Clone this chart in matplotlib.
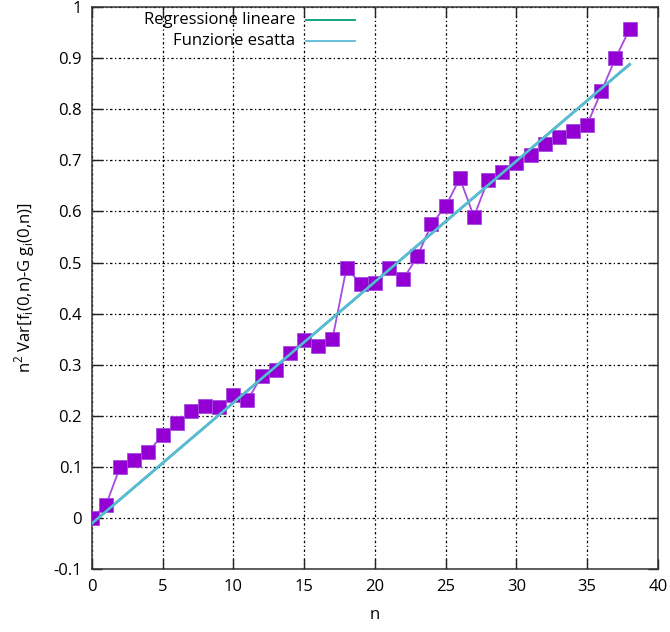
import numpy as np
import matplotlib
matplotlib.use("Agg")
import matplotlib.pyplot as plt

plt.rcParams["font.family"] = ["Open Sans", "DejaVu Sans"]
plt.rcParams["mathtext.fontset"] = "custom"
plt.rcParams["mathtext.rm"] = "Open Sans"

# values
n = list(range(39))
var = [0.0, 0.025, 0.1, 0.113, 0.13, 0.162, 0.185, 0.21, 0.22, 0.217,
       0.24, 0.23, 0.278, 0.29, 0.322, 0.348, 0.337, 0.35, 0.49, 0.458,
       0.46, 0.49, 0.467, 0.512, 0.575, 0.61, 0.665, 0.59, 0.662, 0.677,
       0.695, 0.71, 0.732, 0.745, 0.757, 0.77, 0.835, 0.9, 0.957]

# fitted / exact straight lines (endpoints)
fit_x = [0, 38]
fit_y = [-0.011, 0.888]
exact_x = [0, 38]
exact_y = [-0.011, 0.888]

xticks = [0, 5, 10, 15, 20, 25, 30, 35, 40]
yticks = [-0.1, 0, 0.1, 0.2, 0.3, 0.4, 0.5, 0.6, 0.7, 0.8, 0.9, 1]

fs = 12

fig = plt.figure(figsize=(6.7, 6.32), dpi=100)
ax = fig.add_axes([0.137, 0.0997, 0.845, 0.889])

ax.plot(n, var, color="#a64be0", linewidth=1.3, zorder=3)
ax.plot(n, var, linestyle="none", marker="s", markersize=9.5,
        color="#9400d3", markeredgecolor="#a64be0", markeredgewidth=0.6, zorder=4)
ax.plot(fit_x, fit_y, color="#009e73", linewidth=1.8, zorder=5)
ax.plot(exact_x, exact_y, color="#5abcd8", linewidth=1.8, zorder=6)

ax.set_xlim(0, 40)
ax.set_ylim(-0.1, 1)
ax.set_xticks(xticks)
ax.set_yticks(yticks)
ax.set_xticklabels([str(t) for t in xticks])
ax.set_yticklabels(["%g" % t for t in yticks])
ax.tick_params(direction="in", length=7, width=1, top=True, right=True,
               labelsize=fs, pad=7, colors="#222222", labelcolor="black")
ax.grid(True, color="black", linestyle=(0, (2, 2, 1, 2)), linewidth=0.9)
for s in ax.spines.values():
    s.set_linewidth(1.1)
    s.set_color("#333333")

ax.set_xlabel("n", fontsize=fs, labelpad=9)
ax.set_ylabel("n$^2$ Var[f$_\\mathrm{i}$(0,n)-G g$_\\mathrm{i}$(0,n)]",
              fontsize=fs, labelpad=12)

# gnuplot-style key: right-justified text, sample line to the right
key = [("Regressione lineare", "#009e73"), ("Funzione esatta", "#5abcd8")]
for i, (lab, col) in enumerate(key):
    yk = 0.978 - i * 0.039
    ax.text(0.359, yk, lab, transform=ax.transAxes, ha="right", va="center",
            fontsize=fs, zorder=7)
    ax.plot([0.378, 0.465], [yk, yk], transform=ax.transAxes, color=col,
            linewidth=1.3, zorder=7)

fig.savefig("out.png", dpi=100)
